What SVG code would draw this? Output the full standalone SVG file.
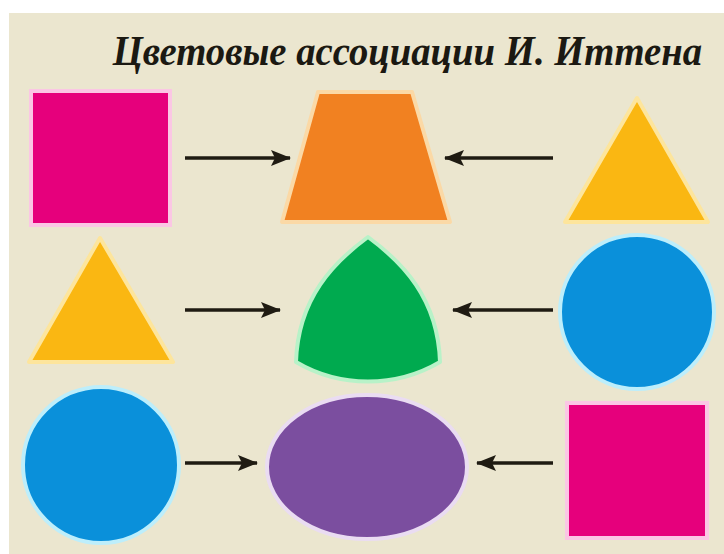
<svg xmlns="http://www.w3.org/2000/svg" width="724" height="554" viewBox="0 0 724 554">
  <defs>
    <marker id="ah" viewBox="0 0 20 16" refX="19" refY="8" markerWidth="20" markerHeight="16" markerUnits="userSpaceOnUse" orient="auto">
      <path d="M0,0 L20,8 L0,16 L4,8 Z" fill="#1f1b12"/>
    </marker>
  </defs>
  <style>
    .pink { fill: #e6007c; stroke: #fbc6e4; stroke-width: 4; }
    .orange { fill: #f18121; stroke: #fbd9a6; stroke-width: 4; stroke-linejoin: round; }
    .yellow { fill: #fab712; stroke: #fde59c; stroke-width: 4; stroke-linejoin: round; }
    .green { fill: #00aa4f; stroke: #b8f2c8; stroke-width: 4; stroke-linejoin: round; }
    .blue { fill: #0a90da; stroke: #bdeefb; stroke-width: 4; }
    .purple { fill: #7b4e9f; stroke: #eadcf2; stroke-width: 4; }
    .arrow { stroke: #1f1b12; stroke-width: 3.5; fill: none; marker-end: url(#ah); }
    .title { font-family: "Liberation Serif", "DejaVu Serif", serif; font-weight: bold; font-style: italic; font-size: 43px; fill: #1b1912; text-anchor: end; }
  </style>
  <rect x="0" y="0" width="724" height="554" fill="#ffffff"/>
  <rect x="9" y="13" width="715" height="541" fill="#ebe6cf"/>
  <text class="title" transform="translate(702,65) scale(0.9,1)" x="0" y="0">Цветовые ассоциации И. Иттена</text>

  <g id="square-top-left"><rect class="pink" x="31" y="91" width="139" height="134"/></g>
  <g id="trapezoid"><polygon class="orange" points="318,92 412,92 450,222 282,222"/></g>
  <g id="triangle-top-right"><polygon class="yellow" points="637,98 708,222 565,222"/></g>

  <g id="triangle-mid-left"><polygon class="yellow" points="100,238 173,362 29,362"/></g>
  <g id="reuleaux"><path class="green" d="M368,237 C334,262 298,298 296,362 C340,388 396,388 440,362 C438,298 402,262 368,237 Z"/></g>
  <g id="circle-mid-right"><circle class="blue" cx="637" cy="312" r="77"/></g>

  <g id="circle-bottom-left"><circle class="blue" cx="101" cy="465" r="78"/></g>
  <g id="ellipse"><ellipse class="purple" cx="367" cy="467" rx="100" ry="72"/></g>
  <g id="square-bottom-right"><rect class="pink" x="567" y="403" width="140" height="135"/></g>

  <g id="connectors">
    <line class="arrow" x1="185" y1="158" x2="290" y2="158"/>
    <line class="arrow" x1="553" y1="158" x2="445" y2="158"/>
    <line class="arrow" x1="185" y1="310" x2="280" y2="310"/>
    <line class="arrow" x1="553" y1="310" x2="453" y2="310"/>
    <line class="arrow" x1="185" y1="463" x2="257" y2="463"/>
    <line class="arrow" x1="553" y1="463" x2="477" y2="463"/>
  </g>
</svg>
